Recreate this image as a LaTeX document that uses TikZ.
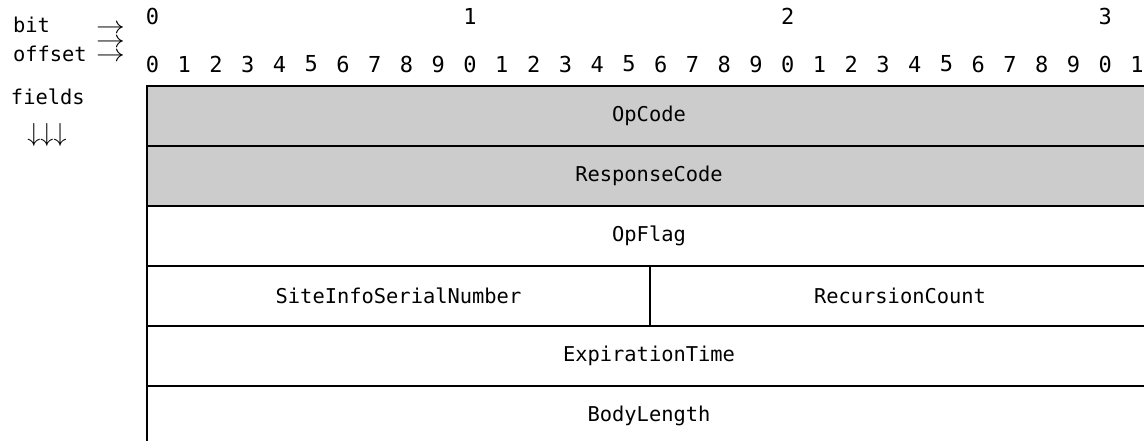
\documentclass[tikz,border=0pt]{standalone}
\usepackage{fontspec}
\setmonofont{DejaVu Sans Mono}
\usetikzlibrary{positioning}

\begin{document}
\begin{tikzpicture}[line width=1.5pt, line cap=rect, x=0.75pt, y=-0.75pt,
  lbl/.style={font=\ttfamily\fontsize{15.3}{18}\selectfont, inner sep=0pt},
  num/.style={font=\ttfamily\fontsize{16.5}{18}\selectfont, inner sep=0pt},
  arr/.style={font=\fontsize{17.28}{18}\selectfont, inner sep=0pt}]
  \useasboundingbox (0,0) rectangle (1144,441);
  \clip (0,0) rectangle (1144,441);
  % legend
  \node[lbl, anchor=base west] (bit) at (12,33) {bit};
  \node[lbl, anchor=base west] (offset) at (12,62) {offset};
  \foreach \n/\y in {A/29,B/43,C/57}
    \node[arr] (arr\n) at (110.5,\y) {\scalebox{1.25}[1.05]{$\rightarrow$}};
  \node[lbl, anchor=base west] (fields) at (10,105) {fields};
  \node[arr] (down) at (47,135) {\scalebox{1.13}{$\downarrow\downarrow\downarrow$}};
  % bit numbers
  \foreach \d/\i in {0/0,1/10,2/20,3/30}
    \node[num] (ten\i) at (152.5+31.76*\i,16) {\d};
  \foreach \i in {0,...,31} {
    \pgfmathtruncatemacro\d{mod(\i,10)}
    \node[num] (bit\i) at (152.5+31.76*\i,64) {\d};
  }
  % fields
  \fill[black!20] (147,86) rectangle (1160,206);
  \foreach \y in {86,146,206,266,326,386}
    \draw (147,\y) -- (1160,\y);
  \draw (147,86) -- (147,445);
  \draw (650,266) -- (650,326);
  \node[lbl] (opcode) at (649,116) {OpCode};
  \node[lbl] (respcode) at (649,176) {ResponseCode};
  \node[lbl] (opflag) at (649,236) {OpFlag};
  \node[lbl] (serial) at (398.5,296) {SiteInfoSerialNumber};
  \node[lbl] (recursion) at (900,296) {RecursionCount};
  \node[lbl] (expiry) at (649,356) {ExpirationTime};
  \node[lbl] (bodylen) at (649,416) {BodyLength};
\end{tikzpicture}
\end{document}
